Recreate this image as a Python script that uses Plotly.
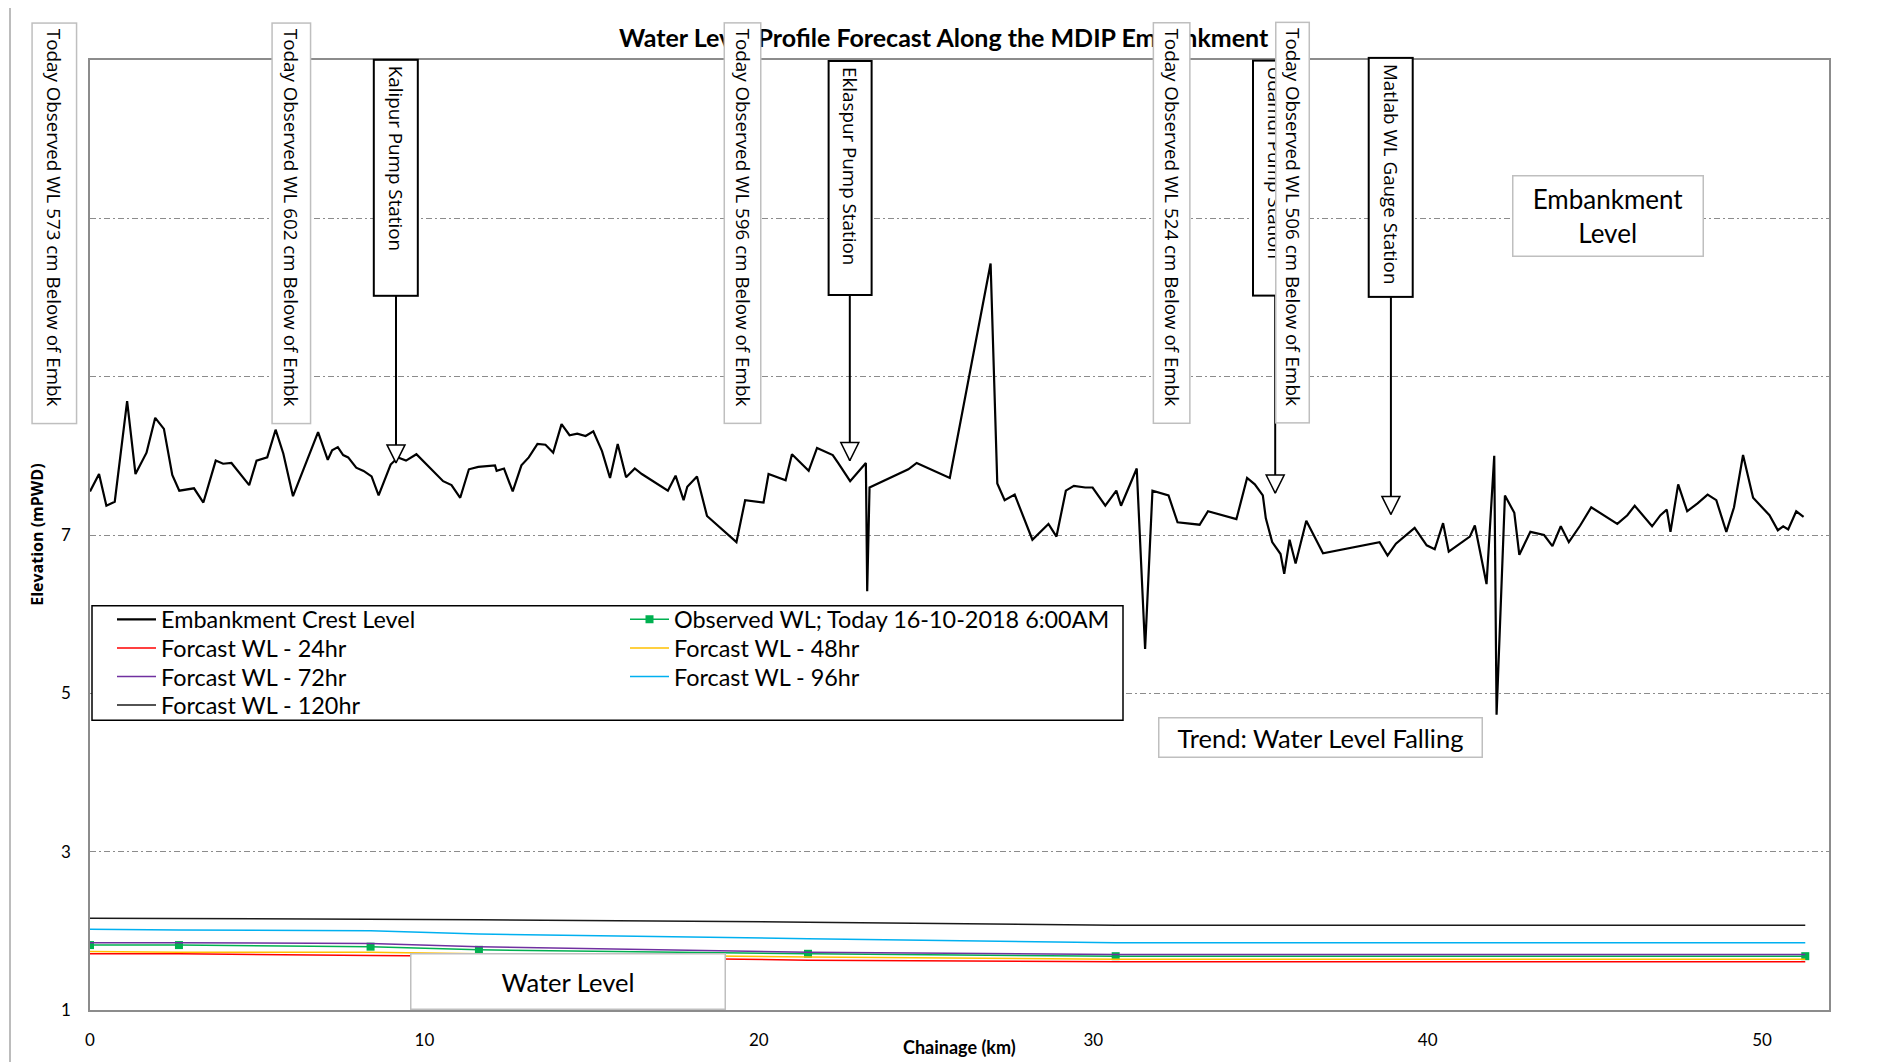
import plotly.graph_objects as go

# ---------------- Data ----------------
# Embankment crest level along the chainage (km, mPWD)
crest_km = [
    0.00, 0.27, 0.49, 0.74, 1.11, 1.36, 1.69, 1.95, 2.21, 2.46, 2.67, 3.11, 3.39, 3.76, 3.98,
    4.23, 4.76, 4.98, 5.30, 5.55, 5.78, 6.07, 6.82, 7.11, 7.24, 7.41, 7.57, 7.72, 7.96, 8.18,
    8.42, 8.63, 8.99, 9.21, 9.45, 9.76, 10.56, 10.81, 11.07, 11.33, 11.61, 12.11, 12.16, 12.38,
    12.64, 12.90, 13.12, 13.38, 13.62, 13.85, 14.10, 14.34, 14.57, 14.82, 15.05, 15.31, 15.55,
    15.78, 16.03, 16.29, 16.50, 17.28, 17.51, 17.75, 17.86, 18.15, 18.45, 19.33, 19.59, 20.14,
    20.29, 20.80, 20.99, 21.49, 21.74, 22.21, 22.37, 22.73, 23.20, 23.24, 23.31, 24.47, 24.72,
    25.71, 26.93, 27.13, 27.35, 27.65, 28.18, 28.66, 28.90, 29.18, 29.42, 29.76, 29.98, 30.36,
    30.69, 30.83, 31.30, 31.55, 31.77, 32.25, 32.52, 33.18, 33.43, 34.28, 34.60, 34.83, 35.07,
    35.16, 35.35, 35.60, 35.71, 35.87, 36.05, 36.37, 36.87, 38.56, 38.80, 39.05, 39.61, 39.97,
    40.21, 40.46, 40.63, 41.26, 41.41, 41.76, 41.99, 42.06, 42.31, 42.59, 42.74, 43.07, 43.48,
    43.73, 43.98, 44.22, 44.56, 44.89, 45.67, 45.97, 46.19, 46.71, 46.96, 47.15, 47.26, 47.49,
    47.76, 48.07, 48.37, 48.63, 48.93, 49.16, 49.43, 49.73, 50.22, 50.47, 50.63, 50.78, 51.02,
    51.24,
]
crest_el = [
    7.55, 7.77, 7.37, 7.42, 8.69, 7.77, 8.04, 8.48, 8.34, 7.76, 7.56, 7.59, 7.41, 7.94, 7.90,
    7.91, 7.63, 7.94, 7.98, 8.33, 8.03, 7.49, 8.30, 7.95, 8.07, 8.11, 8.01, 7.98, 7.85, 7.81,
    7.74, 7.50, 7.89, 7.98, 7.94, 8.02, 7.68, 7.63, 7.47, 7.83, 7.86, 7.88, 7.81, 7.84,
    7.55, 7.88, 7.98, 8.15, 8.14, 8.04, 8.40, 8.26, 8.28, 8.25, 8.31, 8.06, 7.72,
    8.15, 7.73, 7.84, 7.77, 7.56, 7.75, 7.44, 7.61, 7.74, 7.24, 6.91, 7.44, 7.41,
    7.77, 7.69, 8.02, 7.81, 8.10, 8.01, 7.91, 7.68, 7.91, 6.29, 7.60, 7.83, 7.91,
    7.72, 10.43, 7.65, 7.44, 7.51, 6.94, 7.14, 6.98, 7.56, 7.62, 7.60, 7.60, 7.37,
    7.56, 7.37, 7.84, 5.56, 7.56, 7.50, 7.16, 7.13, 7.30, 7.20, 7.72, 7.64, 7.50,
    7.21, 6.91, 6.76, 6.51, 6.94, 6.64, 7.18, 6.77, 6.91, 6.74, 6.89, 7.09, 6.87,
    6.82, 7.15, 6.79, 6.98, 7.12, 6.38, 8.00, 4.73, 7.50, 7.28, 6.75, 7.04, 7.00,
    6.86, 7.11, 6.91, 7.12, 7.35, 7.14, 7.25, 7.37, 7.11, 7.25, 7.32, 7.04, 7.64,
    7.30, 7.40, 7.51, 7.44, 7.04, 7.35, 8.01, 7.47, 7.25, 7.06, 7.11, 7.07, 7.30,
    7.23,
]

# Water level profiles at gauge points (km, mPWD)
wl_km = [0.0, 2.66, 8.39, 11.63, 21.47, 30.67, 51.29]
obs_wl = [1.82, 1.82, 1.80, 1.76, 1.71, 1.68, 1.68]
fc_24hr = [1.71, 1.71, 1.69, 1.68, 1.63, 1.61, 1.61]
fc_48hr = [1.74, 1.73, 1.73, 1.71, 1.67, 1.64, 1.64]
fc_72hr = [1.85, 1.85, 1.84, 1.80, 1.73, 1.70, 1.70]
fc_96hr = [2.02, 2.01, 2.00, 1.96, 1.90, 1.85, 1.85]
fc_120hr = [2.16, 2.155, 2.15, 2.14, 2.11, 2.07, 2.07]

# Stations marked with arrows
station_names = ["Kalipur Pump Station", "Eklaspur Pump Station",
                 "Udamdi Pump Station", "Matlab WL Gauge Station"]
station_km = [9.15, 22.72, 35.44, 38.90]
station_tip_el = [7.91, 7.94, 7.53, 7.26]

# Observed WL notes
obs_notes = [
    "Today Observed WL 573 cm Below of Embk",
    "Today Observed WL 602 cm Below of Embk",
    "Today Observed WL 596 cm Below of Embk",
    "Today Observed WL 524 cm Below of Embk",
    "Today Observed WL 506 cm Below of Embk",
]

y_ticks = [1, 3, 5, 7, 9, 11, 13]
y_tick_text = ["1", "3", "5", "7", "", "", ""]

# ---------------- Layout helpers ----------------
# the page body has an 8px margin, so the figure is drawn 8px in from the window
PAGE = 8
SW, SH = 1882, 1062            # window size
P_LEFT, P_RIGHT, P_TOP, P_BOT = 90, 1829, 60, 1014   # plot area in window pixels
W, H = SW - PAGE, SH - PAGE
PW = P_RIGHT - P_LEFT
PH = P_BOT - P_TOP
Y0, Y1 = 1, 13


def px(xp):
    return (xp - P_LEFT) / PW


def py(yp):
    return (P_BOT - yp) / PH


def el_at(yp):
    return Y0 + (P_BOT - yp) / PH * (Y1 - Y0)


NOTE_FONT = dict(family="Open Sans", size=18.8, color="black")
CAL_FONT = "Lato"


def box(text, x, y, length, thick, font, border, angle=90, align="left",
        xref="paper", bw=1.5, pad=5):
    return dict(
        text=text, x=x, y=y, xref=xref, yref="paper",
        xanchor="center", yanchor="middle", showarrow=False,
        textangle=angle, width=length - 2 * (bw + pad), height=thick - 2 * (bw + pad),
        align=align, valign="middle", bgcolor="white",
        bordercolor=border, borderwidth=bw, borderpad=pad, font=font,
    )


fig = go.Figure()

# ---------------- Traces ----------------
fig.add_trace(go.Scatter(
    x=crest_km, y=crest_el, mode="lines", name="Embankment Crest Level",
    line=dict(color="black", width=2.2), legend="legend",
))
fig.add_trace(go.Scatter(
    x=wl_km, y=obs_wl, mode="lines+markers", name="Observed WL; Today 16-10-2018 6:00AM",
    line=dict(color="#00B050", width=1.5),
    marker=dict(symbol="square", size=8, color="#00B050"), legend="legend2",
))
fig.add_trace(go.Scatter(
    x=wl_km, y=fc_24hr, mode="lines", name="Forcast WL - 24hr",
    line=dict(color="#FF0000", width=1.5), legend="legend3",
))
fig.add_trace(go.Scatter(
    x=wl_km, y=fc_48hr, mode="lines", name="Forcast WL - 48hr",
    line=dict(color="#FFC000", width=1.5), legend="legend4",
))
fig.add_trace(go.Scatter(
    x=wl_km, y=fc_72hr, mode="lines", name="Forcast WL - 72hr",
    line=dict(color="#7030A0", width=1.5), legend="legend5",
))
fig.add_trace(go.Scatter(
    x=wl_km, y=fc_96hr, mode="lines", name="Forcast WL - 96hr",
    line=dict(color="#00B0F0", width=1.5), legend="legend6",
))
fig.add_trace(go.Scatter(
    x=wl_km, y=fc_120hr, mode="lines", name="Forcast WL - 120hr",
    line=dict(color="#1a1a1a", width=1.5), legend="legend7",
))

# station arrows: shaft from the label box down to the tip, hollow head at the tip
box_bottom_el = el_at(297)
shaft_x, shaft_y = [], []
for km, tip in zip(station_km, station_tip_el):
    shaft_x += [km, km, None]
    shaft_y += [box_bottom_el, tip, None]
fig.add_trace(go.Scatter(
    x=shaft_x, y=shaft_y, mode="lines", line=dict(color="black", width=2),
    showlegend=False, hoverinfo="skip",
))
fig.add_trace(go.Scatter(
    x=station_km, y=station_tip_el, mode="markers", showlegend=False, hoverinfo="skip",
    marker=dict(symbol="arrow-down", size=18, color="white",
                line=dict(color="black", width=1.5)),
))

# ---------------- Annotations ----------------
ann = []
ann.append(dict(
    text="<b>Water Level Profile Forecast Along the MDIP Embankment</b>",
    x=px(944), y=py(37), xref="paper", yref="paper", xanchor="center", yanchor="middle",
    showarrow=False, font=dict(family=CAL_FONT, size=25, color="black"),
))

note_cx = [54.5, 291.5, 742.7, 1171.8, 1292.2]
note_th = [46, 40, 38, 38, 35]
note_cy = 223.5
note_len = 402

st_cy = 178.3
st_len = [238, 236, 237, 241]
st_th = [45.5, 45, 46, 46]

gray = "#BFBFBF"
# drawing order so later boxes overlap earlier ones as in the source chart
ann.append(box(obs_notes[0], px(note_cx[0]), py(note_cy), note_len, note_th[0], NOTE_FONT, gray))
ann.append(box(obs_notes[1], px(note_cx[1]), py(note_cy), note_len, note_th[1], NOTE_FONT, gray))
ann.append(box(station_names[0], station_km[0], py(st_cy), st_len[0], st_th[0], NOTE_FONT,
               "black", xref="x", bw=2))
ann.append(box(obs_notes[2], px(note_cx[2]), py(note_cy), note_len, note_th[2], NOTE_FONT, gray))
ann.append(box(station_names[1], station_km[1], py(st_cy), st_len[1], st_th[1], NOTE_FONT,
               "black", xref="x", bw=2))
ann.append(box(obs_notes[3], px(note_cx[3]), py(note_cy), note_len, note_th[3], NOTE_FONT, gray))
ann.append(box(station_names[2], station_km[2], py(st_cy), st_len[2], st_th[2], NOTE_FONT,
               "black", xref="x", bw=2))
ann.append(box(obs_notes[4], px(note_cx[4]), py(note_cy), note_len, note_th[4], NOTE_FONT, gray))
ann.append(box(station_names[3], station_km[3], py(st_cy), st_len[3], st_th[3], NOTE_FONT,
               "black", xref="x", bw=2))

ann.append(box("Embankment<br>Level", px(1607.6), py(216.5), 192, 82,
               dict(family=CAL_FONT, size=26, color="black"), gray, angle=0, align="center",
               pad=2))
ann.append(box("Trend: Water Level Falling", px(1320.5), py(740.5), 325, 41,
               dict(family=CAL_FONT, size=25.5, color="black"), gray, angle=0, align="center",
               pad=1))
ann.append(box("Water Level", px(568), py(985.5), 316, 57,
               dict(family=CAL_FONT, size=25.5, color="black"), gray, angle=0, align="center",
               pad=2))

# axis titles
ann.append(dict(
    text="<b>Elevation (mPWD)</b>", x=px(36.8), y=py(537), xref="paper", yref="paper",
    xanchor="center", yanchor="middle", textangle=-90, showarrow=False,
    font=dict(family="Open Sans", size=16, color="black"),
))
ann.append(dict(
    text="<b>Chainage (km)</b>", x=px(960), y=py(1051), xref="paper", yref="paper",
    xanchor="center", yanchor="middle", showarrow=False,
    font=dict(family=CAL_FONT, size=18, color="black"),
))

# ---------------- Shapes ----------------
shapes = [
    # outer chart frame
    dict(type="rect", xref="paper", yref="paper", x0=px(10), x1=px(1879), y0=py(1075), y1=py(5),
         line=dict(color="#A6A6A6", width=1.5), fillcolor="rgba(0,0,0,0)", layer="below"),
    # legend frame
    dict(type="rect", xref="paper", yref="paper", x0=px(92), x1=px(1123), y0=py(723), y1=py(608),
         line=dict(color="black", width=1.5), fillcolor="white", layer="above"),
]

# one legend per entry so rows sit at the spacing of the source chart
legend_font = dict(family=CAL_FONT, size=23.4, color="black")
col_x = [112, 625]
row_y = [622, 650.7, 679.4, 708]
legend_slots = [(0, 0), (0, 1), (1, 0), (1, 1), (2, 0), (2, 1), (3, 0)]
legend_layout = {}
for i, (r, c) in enumerate(legend_slots):
    key = "legend" if i == 0 else f"legend{i + 1}"
    legend_layout[key] = dict(
        x=px(col_x[c]), y=py(row_y[r]), xanchor="left", yanchor="middle",
        bgcolor="rgba(0,0,0,0)", borderwidth=0, font=legend_font,
        itemwidth=39, tracegroupgap=0,
    )

fig.update_layout(
    width=W, height=H,
    margin=dict(l=P_LEFT - PAGE, r=W - (P_RIGHT - PAGE), t=P_TOP - PAGE,
                b=H - (P_BOT - PAGE), pad=0),
    paper_bgcolor="white", plot_bgcolor="white",
    annotations=ann, shapes=shapes,
    hovermode=False,
    **legend_layout,
)

fig.update_xaxes(
    range=[0, 52], tickvals=[0, 10, 20, 30, 40, 50], showgrid=False, zeroline=False,
    showline=True, mirror=True, linecolor="#8C8C8C", linewidth=1.5,
    ticks="", ticklabelstandoff=14,
    tickfont=dict(family=CAL_FONT, size=17, color="black"),
)
fig.update_yaxes(
    range=[Y0, Y1], tickvals=y_ticks, ticktext=y_tick_text, showgrid=True,
    gridcolor="#8C8C8C", gridwidth=1, griddash="6px,3px,2px,3px", zeroline=False,
    showline=True, mirror=True, linecolor="#8C8C8C", linewidth=1.5,
    ticks="", ticklabelstandoff=14,
    tickfont=dict(family=CAL_FONT, size=17, color="black"),
)

fig.write_html("out.html")
